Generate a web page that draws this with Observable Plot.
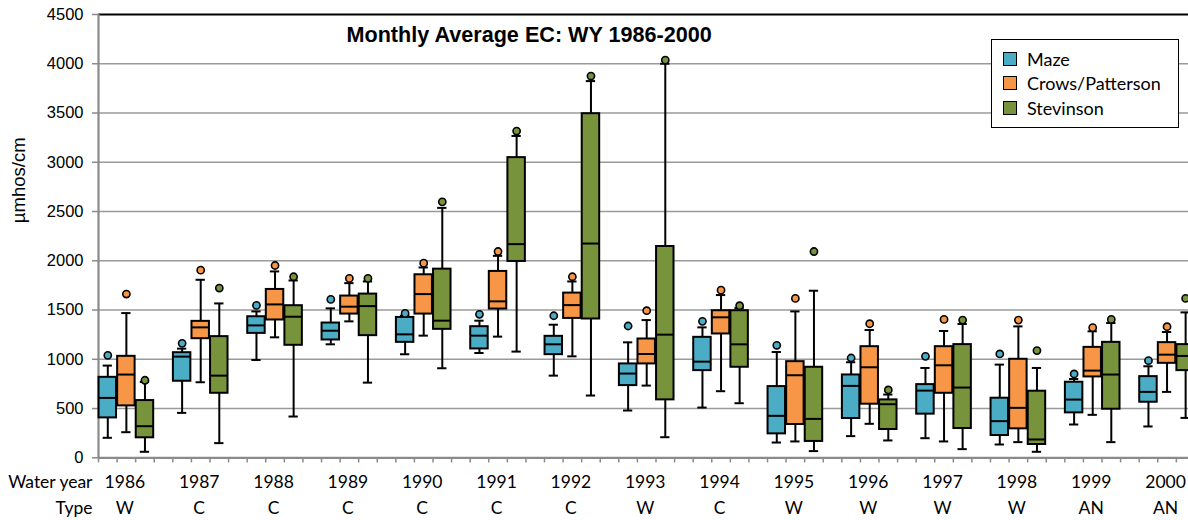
<!DOCTYPE html>
<html>
<head>
<meta charset="utf-8">
<script src="https://cdn.jsdelivr.net/npm/d3@7"></script>
<script src="https://cdn.jsdelivr.net/npm/@observablehq/plot@0.6"></script>
<style>
  html, body { margin: 0; padding: 0; background: #fff; overflow: hidden; }
  #wrap { position: relative; width: 1188px; height: 520px; overflow: hidden; }
  #legend { position: absolute; left: 991px; top: 39px; width: 186px; height: 87px; border: 1.5px solid #000; background: #fff; font-family: Lato, "Open Sans", sans-serif; font-size: 18px; color: #000; }
  .li { position: absolute; left: 11px; height: 20px; display: flex; align-items: center; }
  .sw { width: 12px; height: 12px; border: 1.5px solid #000; margin-right: 10px; }
</style>
</head>
<body>
<div id="wrap"><div id="chart"></div><div id="legend"></div></div>
<script>
const title = "Monthly Average EC: WY 1986-2000";
const years = ["1986","1987","1988","1989","1990","1991","1992","1993","1994","1995","1996","1997","1998","1999","2000"];
const types = ["W","C","C","C","C","C","C","W","C","W","W","W","W","AN","AN"];
const stations = ["Maze", "Crows/Patterson", "Stevinson"];
const colors = ["#4BACC6", "#F79646", "#77933C"];
const yTicks = [0, 500, 1000, 1500, 2000, 2500, 3000, 3500, 4000, 4500];

// [whisker low, Q1, median, Q3, whisker high, outlier]
const maze = [
  [203, 405, 608, 817, 936, 1040],
  [456, 777, 1027, 1067, 1108, 1162],
  [993, 1263, 1344, 1432, 1486, 1547],
  [1152, 1196, 1290, 1368, 1517, 1608],
  [1051, 1172, 1253, 1425, 1442, 1466],
  [1064, 1105, 1240, 1331, 1392, 1456],
  [834, 1047, 1152, 1233, 1351, 1442],
  [480, 733, 855, 953, 1172, 1338],
  [510, 885, 976, 1223, 1324, 1385],
  [155, 243, 426, 723, 1074, 1142],
  [220, 399, 730, 841, 970, 1013],
  [199, 443, 682, 743, 912, 1030],
  [135, 226, 372, 605, 946, 1054],
  [338, 456, 591, 767, 800, 851],
  [318, 564, 669, 824, 929, 986]
];
const crows = [
  [260, 527, 845, 1030, 1469, 1662],
  [767, 1209, 1324, 1385, 1807, 1905],
  [1223, 1399, 1557, 1709, 1892, 1952],
  [1385, 1459, 1534, 1642, 1773, 1821],
  [1240, 1459, 1662, 1858, 1932, 1976],
  [1230, 1510, 1588, 1892, 2050, 2094],
  [1030, 1415, 1550, 1672, 1790, 1838],
  [733, 953, 1054, 1206, 1398, 1493],
  [676, 1257, 1426, 1493, 1652, 1702],
  [166, 338, 838, 976, 1486, 1618],
  [345, 544, 919, 1128, 1297, 1361],
  [166, 655, 939, 1128, 1287, 1405],
  [159, 294, 507, 1000, 1334, 1398],
  [436, 821, 885, 1121, 1284, 1321],
  [669, 959, 1047, 1169, 1277, 1331]
];
const stevinson = [
  [61, 203, 321, 581, 770, 787],
  [149, 655, 834, 1230, 1567, 1723],
  [419, 1142, 1432, 1544, 1800, 1838],
  [763, 1240, 1540, 1662, 1790, 1821],
  [909, 1304, 1392, 1915, 2537, 2598],
  [1078, 1993, 2169, 3047, 3267, 3317],
  [632, 1409, 2175, 3493, 3824, 3875],
  [209, 588, 1250, 2145, 4000, 4037],
  [554, 919, 1152, 1493, 1520, 1544],
  [68, 166, 395, 919, 1696, 2094],
  [176, 287, 544, 588, 642, 689],
  [88, 297, 713, 1149, 1358, 1398],
  [61, 135, 186, 676, 912, 1088],
  [159, 493, 845, 1172, 1368, 1405],
  [405, 885, 1034, 1149, 1476, 1618]
];

const series = [maze, crows, stevinson];
const rows = [];
years.forEach((yr, i) => {
  series.forEach((s, k) => {
    const [lo, q1, med, q3, hi, out] = s[i];
    rows.push({year: yr, station: stations[k], c: i * 4 + k + 0.5, lo, q1, med, q3, hi, out});
  });
});

const slots = d3.range(0, years.length * 4 + 1);
const hw = 0.47, cw = 0.25;
const tickFont = "'Liberation Sans', Arial, sans-serif";
const labFont = "Lato, 'Open Sans', sans-serif";

const chart = Plot.plot({
  width: 1213,
  height: 520,
  marginTop: 14,
  marginBottom: 62.7,
  marginLeft: 98,
  marginRight: 0,
  style: {maxWidth: "none", background: "#fff", overflow: "visible"},
  x: {domain: [0, years.length * 4], axis: null},
  y: {domain: [0, 4500], axis: null},
  color: {domain: stations, range: colors},
  marks: [
    Plot.ruleY(yTicks.filter(d => d > 0 && d < 4500), {y: d => d, stroke: "#9a9a9a", strokeWidth: 1.6}),
    Plot.ruleY([4500], {stroke: "#000", strokeWidth: 2}),
    Plot.ruleY(yTicks, {y: d => d, x1: -0.32, x2: 0, stroke: "#8a8a8a", strokeWidth: 1.5}),
    Plot.ruleX(slots, {x: d => d, y1: 0, y2: -52, stroke: "#8a8a8a", strokeWidth: 1.5}),
    Plot.ruleX([0], {y1: 0, y2: 4500, stroke: "#8a8a8a", strokeWidth: 2.2}),
    Plot.ruleY([0], {stroke: "#8a8a8a", strokeWidth: 2.2}),
    // whiskers
    Plot.ruleX(rows, {x: "c", y1: "lo", y2: "hi", stroke: "#000", strokeWidth: 2}),
    Plot.ruleY(rows, {y: "hi", x1: d => d.c - cw, x2: d => d.c + cw, stroke: "#000", strokeWidth: 2}),
    Plot.ruleY(rows, {y: "lo", x1: d => d.c - cw, x2: d => d.c + cw, stroke: "#000", strokeWidth: 2}),
    // boxes
    Plot.rect(rows, {x1: d => d.c - hw, x2: d => d.c + hw, y1: "q1", y2: "q3", fill: "station", stroke: "#000", strokeWidth: 2}),
    Plot.ruleY(rows, {y: "med", x1: d => d.c - hw, x2: d => d.c + hw, stroke: "#000", strokeWidth: 2}),
    // outliers
    Plot.dot(rows, {x: "c", y: "out", r: 3.6, fill: "station", stroke: "#000", strokeWidth: 1.6}),
    // y tick labels
    Plot.text(yTicks, {x: 0, y: d => d, dx: -15, text: d => String(d), textAnchor: "end", fontSize: 16.5, fontFamily: tickFont, fill: "#000"}),
    // x labels
    Plot.text(years, {x: (d, i) => i * 4 + 1.5, y: 0, dx: -1.5, dy: 25, text: d => d, fontSize: 17.5, fontFamily: labFont, fill: "#000"}),
    Plot.text(types, {x: (d, i) => i * 4 + 1.5, y: 0, dx: -1.5, dy: 51, text: d => d, fontSize: 17.5, fontFamily: labFont, fill: "#000"}),
    Plot.text(["Water year"], {x: 0, y: 0, dx: -6, dy: 25, text: d => d, textAnchor: "end", fontSize: 17.5, fontFamily: labFont, fill: "#000"}),
    Plot.text(["Type"], {x: 0, y: 0, dx: -6, dy: 51, text: d => d, textAnchor: "end", fontSize: 17.5, fontFamily: labFont, fill: "#000"}),
    // y label
    Plot.text(["µmhos/cm"], {frameAnchor: "left", dx: -79, dy: -13, rotate: -90, text: d => d, fontSize: 18.5, fontFamily: tickFont, fill: "#000"}),
    // title
    Plot.text([title], {frameAnchor: "top-left", textAnchor: "start", lineAnchor: "middle", dx: 248, dy: 21, text: d => d, fontSize: 21.6, fontWeight: "bold", fontFamily: tickFont, fill: "#000"})
  ]
});
document.getElementById("chart").appendChild(chart);

const legend = document.getElementById("legend");
stations.forEach((s, i) => {
  const item = document.createElement("div");
  item.className = "li";
  item.style.top = (9 + i * 24.3) + "px";
  const sw = document.createElement("div");
  sw.className = "sw";
  sw.style.background = colors[i];
  const t = document.createElement("span");
  t.textContent = s;
  item.appendChild(sw);
  item.appendChild(t);
  legend.appendChild(item);
});
</script>
</body>
</html>
